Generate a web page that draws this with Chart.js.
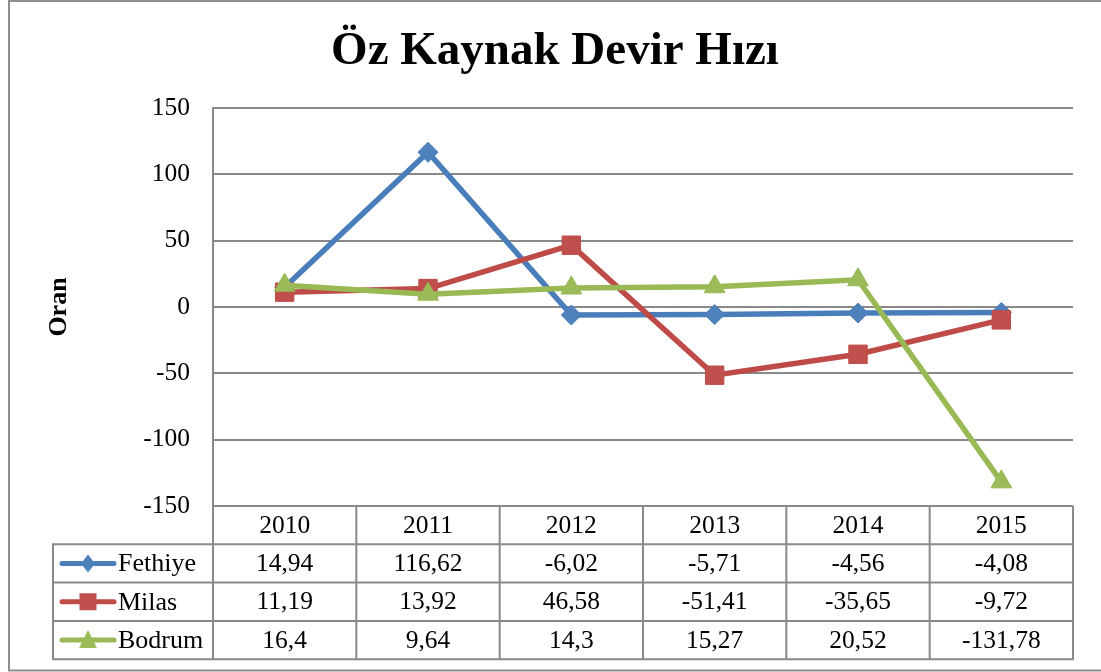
<!DOCTYPE html>
<html>
<head>
<meta charset="utf-8">
<script src="https://cdn.jsdelivr.net/npm/chart.js@4.4.1/dist/chart.umd.min.js"></script>
<style>
  html, body { margin: 0; padding: 0; background: #ffffff; }
  #wrap { width: 1101px; height: 672px; position: relative; }
</style>
</head>
<body>
<div id="wrap"><canvas id="c" width="1101" height="672"></canvas></div>
<script>
// ---- data ----
const categories = ['2010', '2011', '2012', '2013', '2014', '2015'];
const fethiye = [14.94, 116.62, -6.02, -5.71, -4.56, -4.08];
const milas   = [11.19, 13.92, 46.58, -51.41, -35.65, -9.72];
const bodrum  = [16.4, 9.64, 14.3, 15.27, 20.52, -131.78];
const seriesNames = ['Fethiye', 'Milas', 'Bodrum'];
const yMin = -150, yMax = 150, yStep = 50;
const chartTitle = 'Öz Kaynak Devir Hızı';
const yTitle = 'Oran';

const SERIF = "'Liberation Serif', 'Times New Roman', Times, serif";
const GRID = '#898989';

function fmt(v) { return String(v).replace('.', ','); }

function drawMarker(ctx, style, x, y, color) {
  ctx.save();
  ctx.fillStyle = color;
  ctx.beginPath();
  if (style === 'rectRot') {
    ctx.moveTo(x, y - 9); ctx.lineTo(x + 7, y); ctx.lineTo(x, y + 9); ctx.lineTo(x - 7, y);
  } else if (style === 'rect') {
    ctx.rect(x - 8.5, y - 8.5, 17, 17);
  } else {
    ctx.moveTo(x, y - 10); ctx.lineTo(x + 9, y + 8); ctx.lineTo(x - 9, y + 8);
  }
  ctx.closePath();
  ctx.fill();
  ctx.restore();
}

const tablePlugin = {
  id: 'dataTable',
  beforeDraw(chart) {
    const ctx = chart.ctx;
    ctx.save();
    ctx.fillStyle = '#ffffff';
    ctx.fillRect(0, 0, chart.width, chart.height);
    ctx.strokeStyle = '#8e8e8e';
    ctx.lineWidth = 2;
    ctx.strokeRect(9, 1, 1200, 669.5);
    ctx.restore();
  },
  afterDraw(chart) {
    const ctx = chart.ctx, xs = chart.scales.x, ca = chart.chartArea;
    const labels = xs.getLabels();
    const n = labels.length;
    const edge = i => xs.getPixelForValue(i - 0.5);
    const rowH = 38.3, top = ca.bottom, legL = 53;
    const dsets = chart.data.datasets;
    const rows = dsets.length;
    const yLine = r => top + rowH * r;
    ctx.save();
    ctx.strokeStyle = GRID;
    ctx.lineWidth = 2;
    ctx.beginPath();
    for (let r = 1; r <= rows + 1; r++) {
      ctx.moveTo(legL, yLine(r)); ctx.lineTo(edge(n) + 1, yLine(r));
    }
    for (let i = 0; i <= n; i++) {
      ctx.moveTo(edge(i), top); ctx.lineTo(edge(i), yLine(rows + 1) + 1);
    }
    ctx.moveTo(legL, yLine(1) - 1); ctx.lineTo(legL, yLine(rows + 1) + 1);
    ctx.stroke();

    ctx.fillStyle = '#000';
    ctx.font = '25.5px ' + SERIF;
    ctx.textAlign = 'center';
    ctx.textBaseline = 'middle';
    labels.forEach((lab, i) => ctx.fillText(lab, xs.getPixelForValue(i), top + rowH / 2 + 1));
    dsets.forEach((ds, r) => {
      const cy = yLine(r + 1) + rowH / 2 + 1;
      ds.data.forEach((v, i) => ctx.fillText(fmt(v), xs.getPixelForValue(i), cy));
    });
    // legend keys
    dsets.forEach((ds, r) => {
      const cy = yLine(r + 1) + rowH / 2;
      ctx.save();
      ctx.strokeStyle = ds.borderColor;
      ctx.lineWidth = 5;
      ctx.lineCap = 'round';
      ctx.beginPath();
      ctx.moveTo(62, cy); ctx.lineTo(114, cy);
      ctx.stroke();
      ctx.restore();
      drawMarker(ctx, ds.pointStyle, 88, cy, ds.pointBackgroundColor);
      ctx.fillStyle = '#000';
      ctx.textAlign = 'left';
      ctx.font = '26px ' + SERIF;
      ctx.fillText(ds.label, 118, cy + 1);
    });
    ctx.restore();
  }
};

const datasets = [
  { label: seriesNames[0], data: fethiye, borderColor: '#4A7EBB', pointBackgroundColor: '#4F81BD',
    pointBorderColor: '#4A7EBB', pointStyle: 'rectRot', pointRadius: 10, order: 3 },
  { label: seriesNames[1], data: milas, borderColor: '#BE4B48', pointBackgroundColor: '#C0504D',
    pointBorderColor: '#BE4B48', pointStyle: 'rect', pointRadius: 13, order: 2 },
  { label: seriesNames[2], data: bodrum, borderColor: '#98B954', pointBackgroundColor: '#9BBB59',
    pointBorderColor: '#98B954', pointStyle: 'triangle', pointRadius: 12, order: 1 }
].map(d => Object.assign({ borderWidth: 5.5, pointBorderWidth: 1, tension: 0, fill: false, clip: false }, d));

new Chart(document.getElementById('c'), {
  type: 'line',
  data: { labels: categories, datasets },
  options: {
    responsive: false,
    animation: false,
    events: [],
    devicePixelRatio: 1,
    layout: { padding: { left: 37, right: 28, top: 0, bottom: 166 } },
    plugins: {
      legend: { display: false },
      tooltip: { enabled: false },
      title: {
        display: true,
        text: chartTitle,
        color: '#000',
        font: { family: SERIF, size: 47, weight: 'bold', lineHeight: 1.2 },
        padding: { top: 24, bottom: 27.6 }
      }
    },
    scales: {
      x: { type: 'category', offset: true, display: false },
      y: {
        min: yMin, max: yMax,
        afterFit(scale) { scale.width = 176; },
        ticks: { stepSize: yStep, color: '#000', padding: 23, font: { family: SERIF, size: 25.5 } },
        grid: { color: GRID, lineWidth: 2, drawTicks: false },
        border: { display: true, color: GRID, width: 2 },
        title: {
          display: true, text: yTitle, color: '#000',
          font: { family: SERIF, size: 26, weight: 'bold', lineHeight: 1.2 },
          padding: { top: 7, bottom: 0 }
        }
      }
    }
  },
  plugins: [tablePlugin]
});
</script>
</body>
</html>
